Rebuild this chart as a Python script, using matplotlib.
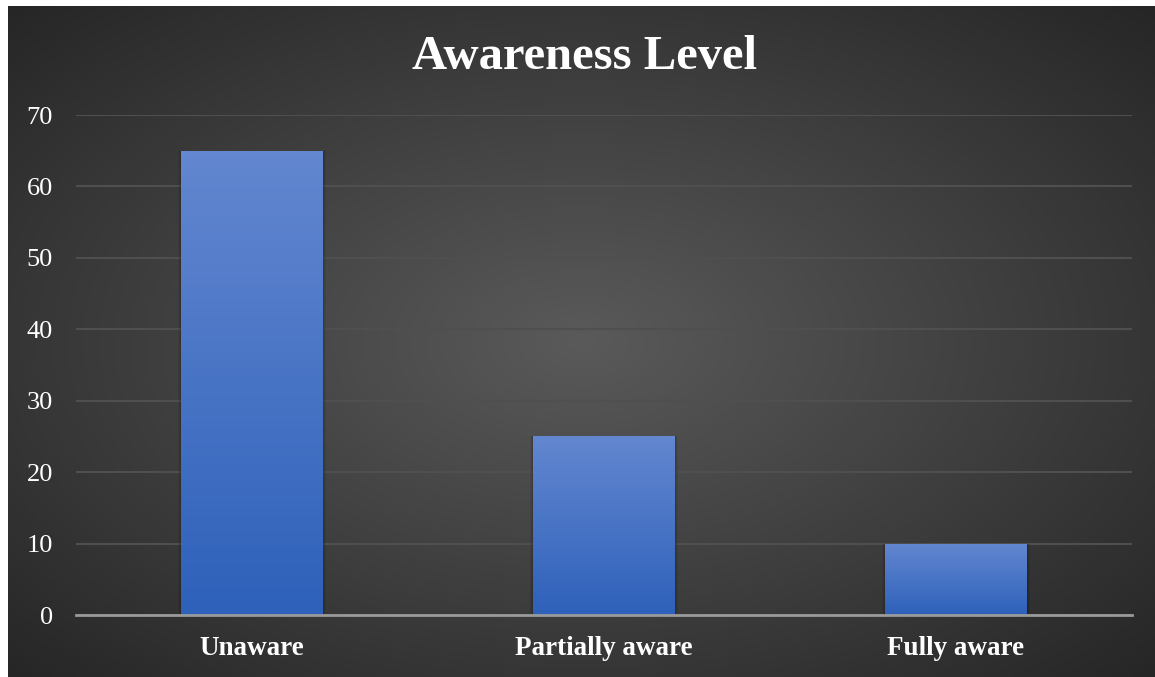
import numpy as np
import matplotlib
matplotlib.use('Agg')
import matplotlib.pyplot as plt

categories = ['Unaware', 'Partially aware', 'Fully aware']
values = [65, 25, 10]
yticks = [0, 10, 20, 30, 40, 50, 60, 70]

plt.rcParams['font.family'] = ['Liberation Serif', 'DejaVu Serif']

W, H = 1155, 677
fig = plt.figure(figsize=(W / 100, H / 100), dpi=100)
fig.patch.set_facecolor('white')

# dark panel with radial gradient
bg = fig.add_axes([8 / W, 0, 1 - 8 / W, 1 - 6 / H])
bg.set_axis_off()
gx, gy = np.meshgrid(np.linspace(-1, 1, 400), np.linspace(-1, 1, 240))
r = np.clip(np.sqrt(gx ** 2 + gy ** 2) / np.sqrt(2), 0, 1)
c0 = np.array([0x5a, 0x5a, 0x5a]) / 255
c1 = np.array([0x26, 0x26, 0x26]) / 255
img = c0[None, None, :] * (1 - r[..., None]) + c1[None, None, :] * r[..., None]
bg.imshow(img, aspect='auto', extent=[0, 1, 0, 1])
bg.set_xlim(0, 1)
bg.set_ylim(0, 1)

ax = fig.add_axes([76 / W, 1 - 615 / H, (1132 - 76) / W, (615 - 115) / H])
ax.set_facecolor('none')
x = np.arange(len(categories))
bars = ax.bar(x, values, width=0.403, color='none', zorder=3)

top = np.array([0x63, 0x87, 0xd0]) / 255
bot = np.array([0x2e, 0x61, 0xba]) / 255
t = np.linspace(0, 1, 100)[:, None]
grad = (top * (1 - t) + bot * t)[:, None, :]
grad = np.repeat(grad, 2, axis=1)
for b in bars:
    x0, w, h = b.get_x(), b.get_width(), b.get_height()
    # soft shadow
    for k, a in [(0.02, 0.05), (0.012, 0.07), (0.006, 0.09)]:
        ax.bar(x0 + w / 2, h, width=w + k, color='black', alpha=a, zorder=2)
    im = ax.imshow(grad, aspect='auto', extent=[x0, x0 + w, 0, h], zorder=3)
    im.set_clip_path(b)

ax.set_xlim(-0.5, len(categories) - 0.5)
ax.set_ylim(0, 70)
ax.set_yticks(yticks)
ax.set_xticks(x)
ax.set_xticklabels(categories, fontsize=19.5, fontweight='bold', color='white')
ax.tick_params(axis='y', labelsize=19, colors='white', length=0, pad=16.5)
ax.tick_params(axis='x', length=0, pad=15)
for lab in ax.get_yticklabels():
    lab.set_color('white')
ax.grid(axis='y', color='#4f4f4f', linewidth=1.5, zorder=1)
for s in ['top', 'right', 'left']:
    ax.spines[s].set_visible(False)
ax.spines['bottom'].set_color('#9a9a9a')
ax.spines['bottom'].set_linewidth(2)
ax.spines['bottom'].set_zorder(4)

fig.text(585 / W, 1 - 57 / H, 'Awareness Level', ha='center', va='center',
         fontsize=35, fontweight='bold', color='white')

fig.savefig('out.png', dpi=100, facecolor=fig.get_facecolor())
